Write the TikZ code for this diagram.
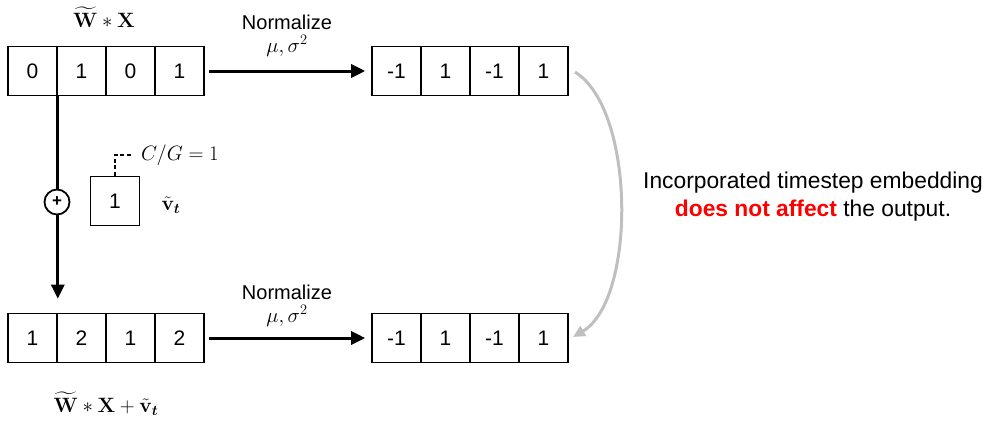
\documentclass[tikz,border=0pt]{standalone}
\usepackage[no-math]{fontspec}
\setmainfont{Liberation Sans}
\usepackage{amsmath}
\usepackage{bm}
\usetikzlibrary{arrows.meta}

\begin{document}
\begin{tikzpicture}[x=1pt,y=-1pt,
    cell/.style={draw,line width=1.6pt,minimum width=49pt,minimum height=49pt,
      inner sep=0pt,font=\fontsize{21}{24}\selectfont},
    arr/.style={line width=3pt,-{Triangle[length=14pt,width=13pt]}},
    lbl/.style={font=\fontsize{20}{24}\selectfont},
    mth/.style={font=\fontsize{21}{24}\selectfont},
    note/.style={font=\fontsize{22.8}{28}\selectfont,align=center}]
  \useasboundingbox (0,0) rectangle (988,423);
  % the four arrays
  \foreach \v [count=\i] in {0,1,0,1}
    \node[cell] (in\i) at ({32.5+49*(\i-1)},71) {\v};
  \foreach \v [count=\i] in {-1,1,-1,1}
    \node[cell] (nin\i) at ({396.5+49*(\i-1)},71) {\v};
  \foreach \v [count=\i] in {1,2,1,2}
    \node[cell] (sum\i) at ({32.5+49*(\i-1)},338) {\v};
  \foreach \v [count=\i] in {-1,1,-1,1}
    \node[cell] (nsum\i) at ({396.5+49*(\i-1)},338) {\v};

  \node[mth] (wx) at (104,17) {$\widetilde{\mathbf{W}} * \mathbf{X}$};
  \node[mth] (wxv) at (106,404)
      {$\widetilde{\mathbf{W}} * \mathbf{X} + \tilde{\mathbf{v}}_{\bm{t}}$};

  % normalization
  \draw[arr,shorten <=4pt,shorten >=6pt] (in4.east) -- (nin1.west);
  \draw[arr,shorten <=4pt,shorten >=6pt] (sum4.east) -- (nsum1.west);
  \node[lbl] (norm1) at (287,22) {Normalize};
  \node[lbl] (ms1) at (287,46) {$\mu,\sigma^2$};
  \node[lbl] (norm2) at (287,292) {Normalize};
  \node[lbl] (ms2) at (287,316) {$\mu,\sigma^2$};

  % adding the embedding
  \draw[arr,shorten >=14pt] (in1.south east) -- (sum1.north east);
  \node[draw,circle,line width=1.8pt,fill=white,minimum size=25pt,inner sep=0pt,
      font=\bfseries\fontsize{17}{17}\selectfont] (plus) at (57,202) {+};
  \node[cell] (vt) at (115,201) {1};
  \node[mth,anchor=west,inner sep=2pt] (cg) at (139,155) {$C/G = 1$};
  \draw[line width=1.4pt,dash pattern=on 4pt off 2.5pt,shorten >=6pt]
      (vt.north) |- (cg.west);
  \node[mth] (vlbl) at (171,205) {$\tilde{\mathbf{v}}_{\bm{t}}$};

  % same output
  \draw[gray!50,line width=3pt,-{Triangle[length=12pt,width=11pt]}]
      (575,72) .. controls (636,110) and (636,300) .. (573,337);
  \node[note] (txt) at (813,197)
      {Incorporated timestep embedding\\
       {\bfseries\color{red}does not affect} the output.};
\end{tikzpicture}
\end{document}
